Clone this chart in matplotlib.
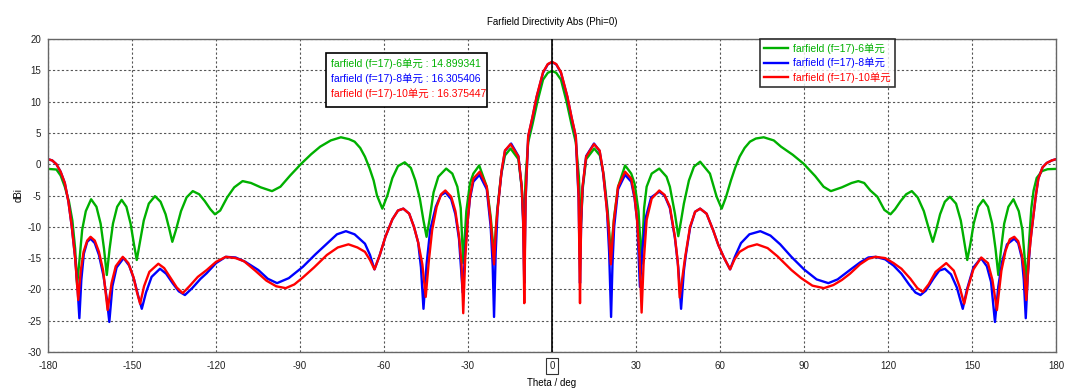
import numpy as np
import matplotlib
matplotlib.use('Agg')
import matplotlib.pyplot as plt
from matplotlib.patches import Rectangle

plt.rcParams['font.family'] = ['Liberation Sans', 'Noto Sans CJK SC', 'DejaVu Sans']
plt.rcParams['axes.unicode_minus'] = False

# (theta deg, dBi)
green_pts = [
    (-180, -0.75), (-177, -0.85), (-175.5, -1.8), (-174, -3.6), (-172.5, -6.0), (-171.3, -9.0),
    (-170.3, -13.5), (-169.6, -19.3), (-168.8, -15.5), (-167.8, -10.5), (-166.5, -7.5), (-164.6, -5.6),
    (-162.7, -6.8), (-161.2, -9.5), (-160, -13.5), (-159, -17.7), (-158, -13.5), (-156.8, -9.5),
    (-155.3, -6.8), (-153.7, -5.7), (-152, -6.8), (-150.5, -9.5), (-149.3, -12.8), (-148.3, -15.3),
    (-147.2, -12.5), (-145.8, -9.0), (-144, -6.3), (-141.8, -5.1), (-139.8, -6.0), (-138, -8.0),
    (-136.6, -10.5), (-135.6, -12.4), (-134.3, -10.5), (-132.5, -7.5), (-130.5, -5.3), (-128.3, -4.3),
    (-126, -4.8), (-124, -5.9), (-122, -7.2), (-120.4, -8.0), (-118.5, -7.4), (-116, -5.3),
    (-113.5, -3.7), (-110.5, -2.7), (-107.5, -3.0), (-104, -3.7), (-100, -4.3), (-97, -3.6),
    (-93.5, -1.8), (-89.5, 0.1), (-86, 1.6), (-82.8, 2.8), (-79, 3.8), (-75.4, 4.3), (-72.5, 4.0),
    (-70.5, 3.6), (-68.5, 2.6), (-66.8, 1.2), (-65.2, -0.6), (-63.7, -2.6), (-62.5, -5.0),
    (-60.6, -7.1), (-58.8, -5.0), (-57, -2.2), (-55, -0.3), (-52.6, 0.3), (-50.4, -0.6),
    (-48.8, -2.6), (-47.2, -5.5), (-45.9, -9.0), (-44.8, -11.6), (-43.8, -9.0), (-42.3, -4.5),
    (-40.6, -2.0), (-37.8, -0.7), (-35.6, -1.5), (-33.8, -3.6), (-32.6, -7.0), (-31.7, -15.8),
    (-30.6, -7.5), (-29.3, -3.1), (-28.1, -1.5), (-26, -0.2), (-23.3, -3.6), (-21.9, -8.4),
    (-20.7, -14.5), (-19.6, -7.5), (-18.2, -1.8), (-16.8, 1.4), (-14.8, 2.5), (-12, 0.8),
    (-10.8, -3.8), (-10.1, -10.0), (-9.4, -2.0), (-8.5, 3.5), (-7, 6.3), (-5.2, 10.0),
    (-3.2, 13.5), (-1.5, 14.6), (0, 14.9),
    (1.5, 14.6), (3.2, 13.5), (5.2, 10.0), (7, 6.3), (8.5, 3.5), (9.6, -2.0), (10.3, -10.0),
    (11, -3.8), (12.2, 0.8), (15.1, 2.5), (17.1, 1.4), (18.5, -1.8), (19.9, -7.5), (21, -14.5),
    (22.2, -8.4), (23.6, -3.6), (26.1, -0.2), (28.3, -1.5), (29.5, -3.1), (30.9, -7.5),
    (32, -15.9), (32.9, -7.0), (33.8, -3.6), (35.6, -1.5), (38.3, -0.7), (40.9, -2.0),
    (42.1, -3.6), (43.9, -7.9), (45.1, -11.5), (46.1, -9.0), (47.1, -6.3), (48.9, -2.6),
    (50.7, -0.4), (52.9, 0.4), (56.4, -1.5), (58.8, -5.2), (60.6, -7.1), (62.1, -5.3),
    (63.9, -2.6), (65.4, -0.6), (67, 1.2), (68.8, 2.6), (70.7, 3.6), (72.8, 4.1), (75.6, 4.3),
    (79.2, 3.8), (81.8, 2.8), (86, 1.5), (89.8, 0.1), (94, -1.9), (97, -3.6), (99.6, -4.3),
    (103.5, -3.7), (107, -3.0), (109.4, -2.7), (111.5, -3.0), (113.7, -4.2), (116.2, -5.2),
    (118.7, -7.3), (120.9, -8.0), (122.5, -7.2), (124.5, -5.9), (126.5, -4.8), (128.5, -4.3),
    (130.6, -5.3), (132.8, -7.5), (134.7, -10.5), (136, -12.4), (137.2, -10.5), (138.6, -8.0),
    (140.3, -6.0), (142.1, -5.2), (144.3, -6.3), (146, -9.0), (147.3, -12.5), (148.3, -15.3),
    (149.4, -12.8), (150.6, -9.5), (152.2, -6.8), (154, -5.7), (155.7, -6.8), (157.2, -9.5),
    (158.4, -13.5), (159.4, -17.7), (160.4, -13.5), (161.5, -9.5), (163, -6.8), (164.8, -5.6),
    (166.7, -7.5), (168, -10.5), (168.9, -15.5), (169.5, -19.1), (170.3, -13.0), (171.2, -7.0),
    (172, -4.2), (173.1, -2.2), (175, -1.1), (177, -0.8), (180, -0.75),
]

blue_pts = [
    (-180, 0.8), (-178.5, 0.6), (-177, 0.0), (-175.5, -1.2), (-174, -3.0), (-172.7, -6.0),
    (-171.5, -10.0), (-170.3, -15.0), (-169.4, -20.0), (-168.8, -24.6), (-168.1, -18.5),
    (-167.2, -14.3), (-166, -12.4), (-164.8, -11.9), (-163.3, -12.6), (-161.8, -14.5),
    (-160.2, -17.8), (-159, -21.5), (-158.1, -25.2), (-157, -19.5), (-155.5, -16.5), (-153, -15.0),
    (-151, -16.2), (-149.2, -18.5), (-147.8, -21.0), (-146.5, -23.1), (-145, -20.5), (-143, -18.0),
    (-140, -16.7), (-137.8, -17.5), (-135.5, -19.0), (-133.3, -20.3), (-131.1, -20.9),
    (-128.5, -19.8), (-125.5, -18.3), (-123.3, -17.4), (-120, -15.8), (-116.5, -14.8),
    (-113, -14.9), (-109.5, -15.6), (-104.9, -16.9), (-101.5, -18.3), (-98.2, -19.0), (-94, -18.2),
    (-89, -16.4), (-84.5, -14.4), (-80.4, -12.7), (-76.8, -11.2), (-73.6, -10.7), (-70.5, -11.2),
    (-66.8, -12.7), (-65, -14.5), (-63.4, -16.8), (-61.5, -14.5), (-59.5, -11.6), (-57, -8.8),
    (-55, -7.4), (-53.1, -7.1), (-51, -7.9), (-49.3, -10.0), (-47.8, -12.5), (-46.8, -16.5),
    (-45.9, -23.1), (-44.8, -16.0), (-43.5, -10.5), (-41.5, -6.8), (-39.8, -5.0), (-38, -4.5),
    (-36, -5.6), (-34.5, -8.0), (-33.2, -12.0), (-31.9, -20.5), (-31, -14.0), (-30.1, -9.0),
    (-29.3, -5.5), (-28.1, -2.8), (-25.9, -1.7), (-23.3, -4.0), (-21.9, -10.0), (-21.2, -16.0),
    (-20.7, -24.4), (-20.1, -14.0), (-19.4, -7.0), (-18, -1.2), (-16.8, 2.1), (-14.6, 3.3),
    (-12, 1.3), (-10.8, -3.8), (-10.3, -9.5), (-9.9, -19.0), (-9.4, -5.5), (-8.5, 4.4),
    (-7, 7.4), (-5.5, 10.7), (-3.2, 14.6), (-1.5, 15.95), (0, 16.3),
    (1.5, 15.95), (3.2, 14.6), (5.5, 10.7), (7, 7.4), (8.5, 4.4), (9.5, -5.5), (10, -19.0),
    (10.4, -9.5), (10.9, -3.8), (12.2, 1.3), (15, 3.3), (17, 2.1), (18.2, -1.2), (19.6, -7.0),
    (20.4, -14.0), (21.1, -24.4), (21.6, -16.0), (22.2, -10.0), (23.6, -4.0), (26.1, -1.7),
    (28.3, -2.8), (29.5, -5.5), (30.4, -9.0), (31.4, -19.6), (32.3, -13.5), (33.5, -8.5),
    (35.4, -5.3), (38.3, -4.4), (40.2, -5.0), (42.1, -7.0), (43.9, -11.8), (45.1, -16.5),
    (46.1, -23.1), (47.1, -17.0), (47.8, -14.5), (49.3, -10.2), (51.1, -7.6), (52.9, -7.1),
    (55.2, -7.9), (57.6, -10.6), (59.4, -12.9), (61.5, -15.0), (63.6, -16.8), (65.3, -14.8),
    (67.5, -12.6), (70.5, -11.2), (74.4, -10.7), (78, -11.4), (81.5, -12.8), (85.5, -14.8),
    (90, -16.8), (94.5, -18.4), (98.7, -19.0), (102, -18.4), (106.4, -16.9), (110, -15.7),
    (113, -14.9), (115.6, -14.8), (119, -15.2), (122, -16.2), (124.8, -17.5), (127.5, -19.2),
    (129.8, -20.5), (131.6, -20.9), (133.5, -20.2), (136.2, -18.3), (138.3, -17.0), (140.3, -16.7),
    (142.5, -17.6), (144.6, -19.7), (146.7, -23.1), (148.2, -20.0), (150.5, -16.5), (153.2, -15.0),
    (155.3, -16.3), (156.8, -18.8), (158.2, -25.2), (159.4, -19.5), (160.8, -15.5), (162.5, -12.8),
    (165.1, -11.9), (166.5, -12.6), (167.8, -15.0), (168.5, -18.5), (169.2, -24.6), (169.9, -18.0),
    (170.8, -12.5), (171.9, -8.4), (172.8, -5.0), (173.7, -2.3), (175.2, -0.5), (176.7, 0.2),
    (178.5, 0.6), (180, 0.8),
]

red_pts = [
    (-180, 0.8), (-178.5, 0.6), (-177, 0.0), (-175.5, -1.2), (-174, -3.0), (-172.7, -6.0),
    (-171.5, -10.0), (-170.3, -15.0), (-169.2, -21.7), (-168.3, -17.0), (-167.3, -14.0),
    (-166, -12.2), (-164.8, -11.6), (-163.3, -12.2), (-161.8, -14.0), (-160.3, -17.0),
    (-158.7, -23.3), (-157.3, -19.0), (-155.8, -16.3), (-153.3, -14.8), (-151.3, -15.8),
    (-149.5, -18.0), (-148.2, -20.5), (-147.1, -22.3), (-145.7, -19.5), (-143.8, -17.2),
    (-140.6, -15.9), (-138.5, -16.6), (-136.2, -18.2), (-134, -19.7), (-131.9, -20.6),
    (-129.5, -19.5), (-126.5, -18.0), (-123.3, -16.9), (-120, -15.6), (-116.5, -14.8), (-113, -15.0),
    (-110, -15.5), (-106, -17.0), (-102, -18.6), (-98.5, -19.5), (-95.1, -19.8), (-92, -19.2),
    (-89, -18.1), (-85, -16.5), (-80.4, -14.5), (-76.5, -13.3), (-72.7, -12.8), (-69.5, -13.3),
    (-66.8, -14.0), (-65, -15.3), (-63.4, -16.8), (-61.5, -14.5), (-59.5, -11.6), (-57, -8.8),
    (-55, -7.4), (-53.1, -7.1), (-51, -7.9), (-49.3, -10.0), (-47.8, -12.5), (-46.3, -16.0),
    (-45.1, -21.2), (-44, -15.5), (-42.8, -10.5), (-41.2, -6.8), (-39.6, -4.8), (-38.1, -4.2),
    (-36, -5.2), (-34.5, -7.5), (-33.2, -11.5), (-32.3, -16.0), (-31.7, -23.8), (-31, -15.0),
    (-30.1, -9.0), (-29.3, -5.2), (-28.1, -2.3), (-25.8, -1.2), (-23.3, -3.6), (-21.9, -9.0),
    (-20.7, -16.0), (-20, -10.0), (-19.2, -6.3), (-18, -1.0), (-16.8, 2.2), (-14.8, 3.2),
    (-12, 1.2), (-10.8, -3.6), (-10.3, -9.0), (-9.9, -22.2), (-9.4, -5.0), (-8.5, 4.5),
    (-7, 7.5), (-5.5, 10.8), (-3.2, 14.7), (-1.5, 16.0), (0, 16.35),
    (1.5, 16.0), (3.2, 14.7), (5.5, 10.8), (7, 7.5), (8.5, 4.5), (9.5, -5.0), (10, -22.2),
    (10.4, -9.0), (10.9, -3.6), (12.2, 1.2), (15, 3.2), (17, 2.2), (18.2, -1.0), (19.4, -6.3),
    (20.2, -10.0), (21, -16.0), (22.1, -9.0), (23.6, -3.6), (26.1, -1.2), (28.3, -2.3),
    (29.5, -5.2), (30.4, -9.0), (31.3, -15.0), (32, -23.7), (32.7, -16.0), (33.8, -8.9),
    (35.6, -5.5), (38.3, -4.2), (40.2, -4.9), (42.1, -6.8), (43.9, -11.6), (44.9, -15.5),
    (45.6, -21.3), (46.6, -18.0), (47.5, -15.0), (49.3, -10.0), (51.1, -7.6), (52.9, -7.1),
    (55.2, -7.9), (57.6, -10.6), (59.4, -12.9), (61.5, -15.0), (63.6, -16.8), (65.2, -15.2),
    (67, -14.0), (70, -13.2), (73.2, -12.8), (77, -13.4), (80.5, -14.7), (85.5, -16.9),
    (89, -18.2), (93, -19.4), (97.1, -19.8), (100.5, -19.3), (103.5, -18.5), (106.4, -17.5),
    (110, -16.0), (113, -15.1), (115.6, -14.8), (119, -15.0), (122, -15.8), (124.8, -16.7),
    (128, -18.3), (130.5, -19.8), (132.4, -20.4), (134.5, -19.2), (137, -17.2), (140.8, -15.8),
    (143.5, -17.0), (145.5, -19.5), (147.2, -22.3), (148.5, -19.8), (150.5, -16.8), (153.3, -14.9),
    (155.7, -15.8), (157.3, -18.5), (158.9, -23.3), (160.5, -17.0), (162, -13.8), (163.5, -12.0),
    (165.1, -11.6), (166.5, -12.3), (167.8, -14.5), (168.6, -17.0), (169.4, -21.7), (170.3, -15.0),
    (171.2, -11.0), (171.9, -8.4), (172.8, -5.0), (173.7, -2.3), (175.2, -0.5), (176.7, 0.2),
    (178.5, 0.6), (180, 0.8),
]

labels = ['farfield (f=17)-6单元', 'farfield (f=17)-8单元', 'farfield (f=17)-10单元']
peak_vals = ['14.899341', '16.305406', '16.375447']
colors = ['#00b000', '#0000ff', '#ff0000']

fig = plt.figure(figsize=(10.8, 3.91), dpi=100)
ax = fig.add_axes([48/1080, 1-352/391, 1008/1080, 313/391])

for pts, lab, c in zip([green_pts, blue_pts, red_pts], labels, colors):
    a = np.array(pts)
    ax.plot(a[:, 0], a[:, 1], color=c, lw=1.7, label=lab)

ax.axvline(0, color='black', lw=1.2, zorder=3)

ax.set_xlim(-180, 180)
ax.set_ylim(-30, 20)
xt = np.arange(-180, 181, 30)
ax.set_xticks(xt, [str(v) for v in xt])
ax.set_yticks(np.arange(-30, 21, 5))
ax.tick_params(length=0, labelsize=7, colors='#222222')
ax.tick_params(axis='x', pad=6.3)
ax.tick_params(axis='y', pad=4.8)
for lbl in ax.get_xticklabels():
    if lbl.get_text() == '0':
        lbl.set_bbox(dict(boxstyle='square,pad=0.3', facecolor='none', edgecolor='#333333', lw=0.8))

ax.grid(True, color='#555555', lw=0.8, linestyle=(0, (2, 2)))
for s in ax.spines.values():
    s.set_color('#666666')
    s.set_linewidth(1.0)

ax.set_title('Farfield Directivity Abs (Phi=0)', fontsize=7, pad=10)
ax.set_xlabel('Theta / deg', fontsize=7, labelpad=5)
ax.set_ylabel('dBi', fontsize=7, labelpad=3)

leg = ax.legend(loc='upper left', bbox_to_anchor=((760-48)/1008, 1.0), borderaxespad=0,
                fontsize=7.5, frameon=True, fancybox=False, handlelength=2.3,
                handletextpad=0.5, labelspacing=0.35, labelcolor='linecolor')
leg.get_frame().set_edgecolor('black')
leg.get_frame().set_linewidth(1.2)

# marker readout box
fig.patches.append(Rectangle((326/1080, 1-107/391), 161/1080, 54/391, transform=fig.transFigure,
                             facecolor='white', edgecolor='black', lw=1.2, zorder=5))
for i, (lab, v, c) in enumerate(zip(labels, peak_vals, colors)):
    fig.text(331/1080, 1-(63.3+15.4*i)/391, lab + ' : ' + v, color=c, fontsize=7.5,
             va='center', ha='left', zorder=6)

fig.savefig('out.png', dpi=100)
